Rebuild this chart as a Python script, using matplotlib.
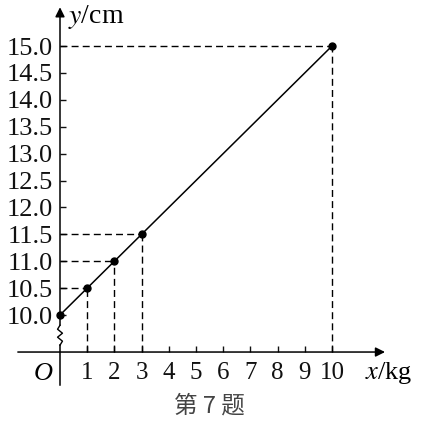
import numpy as np
import matplotlib.pyplot as plt

plt.rcParams['font.family'] = ['Liberation Serif', 'Noto Sans CJK SC', 'DejaVu Sans']
plt.rcParams['mathtext.fontset'] = 'stix'

# 数据
x_pts = [0, 1, 2, 3, 10]
y_pts = [10.0, 10.5, 11.0, 11.5, 15.0]
x_ticks = [1, 2, 3, 4, 5, 6, 7, 8, 9, 10]
y_ticks = [10.0, 10.5, 11.0, 11.5, 12.0, 12.5, 13.0, 13.5, 14.0, 14.5, 15.0]
y_tick_labels = ['10.0', '10.5', '11.0', '11.5', '12.0', '12.5',
                 '13.0', '13.5', '14.0', '14.5', '15.0']

y_axis = 9.312  # 横轴所在位置（纵轴有折断）
dash = (0, (5, 3))

fig = plt.figure(figsize=(4.23, 4.23), dpi=100)
ax = fig.add_axes([0, 0, 1, 1])
ax.set_xlim(-2.206, 13.346)
ax.set_ylim(7.993, 15.855)

# 坐标轴刻度用 spine 定位，线本身另画
for s in ['top', 'right']:
    ax.spines[s].set_visible(False)
ax.spines['left'].set_position(('data', 0))
ax.spines['bottom'].set_position(('data', y_axis))
ax.spines['left'].set_linewidth(0)
ax.spines['bottom'].set_linewidth(0)

ax.set_xticks(x_ticks)
ax.set_xticklabels([str(t) for t in x_ticks], fontsize=18)
ax.set_yticks(y_ticks)
ax.set_yticklabels(y_tick_labels, fontsize=19)
ax.tick_params(axis='x', direction='in', length=4, width=1, pad=7, colors='#111111')
ax.tick_params(axis='y', direction='in', length=4, width=1, pad=5, colors='#111111')

# 横轴
ax.annotate('', xy=(11.95, y_axis), xytext=(-1.55, y_axis),
            arrowprops=dict(arrowstyle='-|>', color='black', lw=1.1,
                            mutation_scale=14, shrinkA=0, shrinkB=0))
# 纵轴（带折断号）
ax.plot([0, 0], [8.70, 9.44], color='black', lw=1.1)
zx = [0, 0.09, -0.09, 0.09, -0.09, 0]
zy = np.linspace(9.44, 9.81, len(zx))
ax.plot(zx, zy, color='black', lw=1.0)
ax.annotate('', xy=(0, 15.72), xytext=(0, 9.81),
            arrowprops=dict(arrowstyle='-|>', color='black', lw=1.1,
                            mutation_scale=14, shrinkA=0, shrinkB=0))

# 虚线
for x, y in zip(x_pts[1:], y_pts[1:]):
    ax.plot([0, x], [y, y], color='black', lw=1, linestyle=dash)
    ax.plot([x, x], [y_axis, y], color='black', lw=1, linestyle=dash)

# 图像
ax.plot([x_pts[0], x_pts[-1]], [y_pts[0], y_pts[-1]], color='black', lw=1.1)
ax.plot(x_pts, y_pts, 'o', color='black', markersize=5)

ax.text(-0.61, 8.9, 'O', fontsize=19, style='italic', ha='center', va='center')
ax.text(0.3, 15.54, r'$y$/cm', fontsize=20, ha='left', va='center')
ax.text(11.2, 8.93, r'$x$/kg', fontsize=19, ha='left', va='center')
ax.text(5.51, 8.31, '第 7 题', fontsize=17, ha='center', va='center',
        color='#444444', family=['Noto Sans CJK SC', 'DejaVu Sans'])

fig.savefig('out.png', dpi=100)
